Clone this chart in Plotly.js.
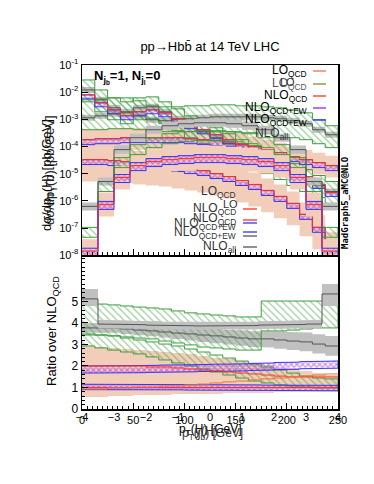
<!DOCTYPE html>
<html><head><meta charset="utf-8">
<script src="https://cdn.plot.ly/plotly-3.0.1.min.js"></script>
<style>html,body{margin:0;padding:0;background:#fff}#c{width:374px;height:484px}</style>
</head><body><div id="c"></div>
<script>
// ---------- bins ----------
const ptEdges = [0,12.5,25,37.5,50,62.5,75,87.5,100,112.5,125,137.5,150,162.5,175,187.5,200,212.5,225,237.5,250];
const yhEdges = [-4,-3.5,-3,-2.5,-2,-1.5,-1,-0.5,0,0.5,1,1.5,2,2.5,3,3.5,4];

// ---------- top panel: broad hump distribution ----------
const humpNloAll   = [1.14e-3,1.35e-3,1.60e-3,1.74e-3,1.35e-3,9.66e-4,8.88e-4,9.66e-4,1.05e-3,1.14e-3,1.24e-3,1.24e-3,1.24e-3,1.24e-3,1.14e-3,1.05e-3,8.88e-4,6.89e-4,4.15e-4,2.72e-4];
const humpNloAllHi = [1.47e-3,1.74e-3,2.06e-3,2.24e-3,1.74e-3,1.24e-3,1.14e-3,1.24e-3,1.35e-3,1.47e-3,1.60e-3,1.60e-3,1.60e-3,1.60e-3,1.47e-3,1.35e-3,1.14e-3,8.88e-4,5.35e-4,3.51e-4];
const humpNloAllLo = [8.88e-4,1.05e-3,1.24e-3,1.35e-3,1.05e-3,7.50e-4,6.89e-4,7.50e-4,8.15e-4,8.88e-4,9.66e-4,9.66e-4,9.66e-4,9.66e-4,8.88e-4,8.15e-4,6.89e-4,5.35e-4,3.22e-4,2.11e-4];
const humpLoHi     = [5.21e-3,5.68e-3,6.18e-3,6.18e-3,4.80e-3,3.15e-3,2.89e-3,2.89e-3,3.15e-3,3.15e-3,3.42e-3,3.42e-3,3.15e-3,3.15e-3,2.89e-3,2.66e-3,2.24e-3,1.74e-3,9.66e-4,5.82e-4];
const humpLoLo     = [4.15e-4,4.15e-4,4.52e-4,4.52e-4,4.15e-4,3.51e-4,3.51e-4,3.51e-4,3.51e-4,3.51e-4,3.51e-4,3.51e-4,3.22e-4,3.22e-4,2.96e-4,2.50e-4,2.11e-4,1.79e-4,1.27e-4,9.10e-5];

// ---------- top panel: steep distribution ----------
const steepNloAll   = [1.21e-2,5.21e-3,2.66e-3,1.90e-3,2.66e-3,2.89e-3,1.90e-3,1.05e-3,5.82e-4,3.51e-4,2.11e-4,1.27e-4,7.68e-5,4.62e-5,2.79e-5,1.68e-5,1.01e-5,6.11e-6,3.68e-6,2.22e-6];
const steepNloAllHi = [1.56e-2,6.72e-3,3.42e-3,2.44e-3,3.42e-3,3.72e-3,2.44e-3,1.35e-3,7.50e-4,4.52e-4,2.72e-4,1.64e-4,9.89e-5,5.96e-5,3.60e-5,2.17e-5,1.30e-5,7.87e-6,4.74e-6,2.86e-6];
const steepNloAllLo = [9.42e-3,4.05e-3,2.06e-3,1.47e-3,2.06e-3,2.24e-3,1.47e-3,8.15e-4,4.52e-4,2.72e-4,1.64e-4,9.89e-5,5.96e-5,3.60e-5,2.17e-5,1.30e-5,7.87e-6,4.74e-6,2.86e-6,1.72e-6];
const steepLoHi     = [2.82e-2,1.21e-2,6.18e-3,4.41e-3,6.18e-3,6.72e-3,4.41e-3,2.44e-3,1.35e-3,8.15e-4,4.91e-4,2.96e-4,1.79e-4,1.08e-4,6.49e-5,3.91e-5,2.36e-5,1.42e-5,8.57e-6,5.16e-6];
const steepLoLo     = [4.41e-3,1.90e-3,9.66e-4,6.89e-4,9.66e-4,1.05e-3,6.89e-4,3.82e-4,2.11e-4,1.27e-4,7.68e-5,4.62e-5,2.79e-5,1.68e-5,1.01e-5,6.11e-6,3.68e-6,2.22e-6,1.34e-6,8.07e-7];
const steepNloQcd   = [7.96e-3,4.05e-3,2.24e-3,1.35e-3,1.90e-3,2.24e-3,1.74e-3,1.05e-3,6.33e-4,4.15e-4,2.72e-4,1.79e-4,1.17e-4,7.06e-5,4.26e-5,2.56e-5,1.42e-5,7.87e-6,4.01e-6,2.04e-6];
const steepEwLo     = [5.68e-3,2.89e-3,1.60e-3,9.66e-4,1.35e-3,1.60e-3,1.24e-3,7.50e-4,4.52e-4,2.96e-4,1.94e-4,1.27e-4,8.35e-5,5.04e-5,3.03e-5,1.83e-5,1.01e-5,5.61e-6,2.86e-6,1.46e-6];

// ---------- top panel: flat distribution ----------
const flatNloQcd = [1.79e-4,1.94e-4,1.94e-4,2.11e-4,2.11e-4,2.11e-4,2.11e-4,2.11e-4,1.94e-4,1.79e-4,1.64e-4,1.51e-4,1.27e-4,9.89e-5,7.68e-5,5.96e-5,4.26e-5,3.30e-5,2.56e-5,1.99e-5];
const flatEwLo   = [1.17e-4,1.27e-4,1.27e-4,1.39e-4,1.39e-4,1.39e-4,1.39e-4,1.39e-4,1.27e-4,1.17e-4,1.08e-4,9.89e-5,8.35e-5,6.49e-5,5.04e-5,3.91e-5,2.79e-5,2.17e-5,1.68e-5,1.30e-5];
const flatLoHi   = [4.15e-4,4.52e-4,4.52e-4,4.91e-4,4.91e-4,4.91e-4,4.91e-4,4.91e-4,4.52e-4,4.15e-4,3.82e-4,3.51e-4,2.96e-4,2.30e-4,1.79e-4,1.39e-4,9.89e-5,7.68e-5,5.96e-5,4.62e-5];
const flatLoLo   = [6.49e-5,7.06e-5,7.06e-5,7.68e-5,7.68e-5,7.68e-5,7.68e-5,7.68e-5,7.06e-5,6.49e-5,5.96e-5,5.48e-5,4.62e-5,3.60e-5,2.79e-5,2.17e-5,1.55e-5,1.20e-5,9.31e-6,7.23e-6];

// ---------- top panel: falling distribution ----------
const fallNloQcd = [3.30e-5,3.30e-5,3.03e-5,2.79e-5,2.56e-5,2.36e-5,2.17e-5,1.83e-5,1.55e-5,1.30e-5,1.01e-5,7.87e-6,5.61e-6,4.01e-6,2.42e-6,1.46e-6,8.07e-7,3.19e-7,1.06e-7,2.54e-8];
const fallEwLo   = [2.17e-5,2.17e-5,1.99e-5,1.83e-5,1.68e-5,1.55e-5,1.42e-5,1.20e-5,1.01e-5,8.57e-6,6.65e-6,5.16e-6,3.68e-6,2.63e-6,1.58e-6,9.55e-7,5.29e-7,2.09e-7,6.98e-8,1.66e-8];
const fallLoHi   = [9.10e-5,9.10e-5,8.35e-5,7.68e-5,7.06e-5,6.49e-5,5.96e-5,5.04e-5,4.26e-5,3.60e-5,2.79e-5,2.17e-5,1.55e-5,1.10e-5,6.65e-6,4.01e-6,2.22e-6,8.77e-7,2.93e-7,6.98e-8];
const fallLoLo   = [5.16e-6,5.16e-6,4.74e-6,4.36e-6,4.01e-6,3.68e-6,3.39e-6,2.86e-6,2.42e-6,2.04e-6,1.58e-6,1.23e-6,8.77e-7,6.27e-7,3.78e-7,2.28e-7,1.26e-7,4.98e-8,1.66e-8,1.0e-8];

// ---------- top panel: rapidity distribution ----------
const rapNloQcd    = [1.41e-8,7.41e-7,7.23e-6,1.99e-5,2.79e-5,3.30e-5,3.60e-5,3.91e-5,3.91e-5,3.60e-5,3.30e-5,2.79e-5,1.99e-5,7.23e-6,7.41e-7,1.41e-8];
const rapEwHi      = [1.81e-8,9.55e-7,9.31e-6,2.56e-5,3.60e-5,4.26e-5,4.62e-5,5.04e-5,5.04e-5,4.62e-5,4.26e-5,3.60e-5,2.56e-5,9.31e-6,9.55e-7,1.81e-8];
const rapEwLo      = [9.2e-9,4.86e-7,4.74e-6,1.30e-5,1.83e-5,2.17e-5,2.36e-5,2.56e-5,2.56e-5,2.36e-5,2.17e-5,1.83e-5,1.30e-5,4.74e-6,4.86e-7,9.2e-9];
const rapLoHi      = [3.87e-8,2.04e-6,1.99e-5,5.48e-5,7.68e-5,9.10e-5,9.89e-5,1.08e-4,1.08e-4,9.89e-5,9.10e-5,7.68e-5,5.48e-5,1.99e-5,2.04e-6,3.87e-8];
const rapLoLo      = [5.1e-9,2.69e-7,2.63e-6,7.23e-6,1.01e-5,1.20e-5,1.30e-5,1.42e-5,1.42e-5,1.30e-5,1.20e-5,1.01e-5,7.23e-6,2.63e-6,2.69e-7,5.1e-9];
const rapNloAll    = [6.27e-7,5.16e-6,7.68e-5,2.11e-4,4.15e-4,5.82e-4,6.89e-4,7.50e-4,7.50e-4,6.89e-4,5.82e-4,4.15e-4,2.11e-4,7.68e-5,5.16e-6,6.27e-7];
const rapNloAllHi  = [8.77e-7,7.23e-6,1.08e-4,2.96e-4,5.82e-4,8.15e-4,9.66e-4,1.05e-3,1.05e-3,9.66e-4,8.15e-4,5.82e-4,2.96e-4,1.08e-4,7.23e-6,8.77e-7];
const rapNloAllLo  = [4.47e-7,3.68e-6,5.48e-5,1.51e-4,2.96e-4,4.15e-4,4.91e-4,5.35e-4,5.35e-4,4.91e-4,4.15e-4,2.96e-4,1.51e-4,5.48e-5,3.68e-6,4.47e-7];
const rapLoQcdHi   = [1.06e-7,5.16e-6,3.91e-5,1.17e-4,2.11e-4,2.96e-4,3.51e-4,3.82e-4,3.82e-4,3.51e-4,2.96e-4,2.11e-4,1.17e-4,3.91e-5,5.16e-6,1.06e-7];
const rapLoQcdLo   = [4.58e-8,2.22e-6,1.68e-5,5.04e-5,9.10e-5,1.27e-4,1.51e-4,1.64e-4,1.64e-4,1.51e-4,1.27e-4,9.10e-5,5.04e-5,1.68e-5,2.22e-6,4.58e-8];

// ---------- ratio panel ----------
const ratLoHi   = [2.93,2.88,2.84,2.79,2.74,2.70,2.65,2.60,2.56,2.47,2.37,2.33,2.23,2.14,2.05,1.95,1.86,1.77,1.67,1.58];
const ratLoLo   = [0.56,0.56,0.60,0.60,0.65,0.65,0.65,0.70,0.70,0.70,0.70,0.74,0.74,0.74,0.74,0.79,0.79,0.79,0.79,0.79];
const ratLo     = [0.93,0.93,0.98,0.98,1.02,1.02,1.07,1.07,1.12,1.16,1.21,1.26,1.30,1.35,1.40,1.44,1.49,1.53,1.58,1.63];
const ratEwHi   = [1.15,1.15,1.15,1.15,1.14,1.14,1.14,1.14,1.13,1.13,1.13,1.12,1.12,1.12,1.11,1.11,1.10,1.10,1.10,1.10];
const ratEwLo   = [0.90,0.90,0.90,0.90,0.89,0.89,0.89,0.89,0.88,0.88,0.88,0.87,0.87,0.87,0.86,0.86,0.85,0.85,0.85,0.85];
const ratEw2Hi  = [2.00,2.00,2.00,2.01,2.02,2.03,2.04,2.05,2.06,2.07,2.08,2.09,2.10,2.12,2.14,2.16,2.18,2.20,2.22,2.23];
const ratEw2Lo  = [1.67,1.67,1.67,1.68,1.69,1.70,1.71,1.72,1.73,1.74,1.75,1.76,1.77,1.79,1.81,1.83,1.85,1.87,1.89,1.90];
const ratNloQcd = [1,1,1,1,1,1,1,1,1,1,1,1,1,1,1,1,1,1,1,1];
const ratNloQcd2= [2.0,2.0,2.0,2.0,2.0,1.95,1.95,1.91,1.86,1.81,1.77,1.72,1.67,1.63,1.58,1.53,1.49,1.49,1.49,1.49];
const ratAll    = [3.77,3.77,3.77,3.72,3.67,3.63,3.58,3.53,3.49,3.44,3.40,3.35,3.30,3.26,3.26,3.21,3.16,3.12,3.02,2.93];
const ratAllHi  = [4.0,4.0,4.0,3.97,3.93,3.90,3.86,3.82,3.79,3.75,3.72,3.68,3.65,3.62,3.63,3.60,3.58,3.56,3.48,3.40];
const ratAllLo  = [3.55,3.55,3.55,3.49,3.43,3.38,3.32,3.25,3.19,3.12,3.06,3.00,2.94,2.88,2.86,2.80,2.74,2.68,2.58,2.48];
const ratGreenHi  = [4.88,4.88,4.84,4.79,4.74,4.70,4.65,4.56,4.47,4.42,4.37,4.33,4.28,4.28,5.02,5.02,5.02,5.02,5.02,5.02];
const ratGreenLo  = [3.44,3.44,3.40,3.35,3.30,3.26,3.16,3.07,2.98,2.88,2.84,2.79,2.74,2.74,3.63,3.63,3.67,3.72,3.77,3.77];
const ratGreen2Hi = [3.49,3.44,3.40,3.30,3.21,3.12,3.02,2.93,2.79,2.65,2.51,2.37,2.23,2.09,1.95,1.81,1.67,1.53,1.44,1.40];
const ratGreen2Lo = [2.93,2.84,2.74,2.65,2.56,2.42,2.28,2.14,2.00,1.86,1.72,1.58,1.44,1.30,1.21,1.12,1.07,1.02,0.98,0.98];
const rapRatAll   = [5.12,3.95,3.93,3.92,3.90,3.88,3.87,3.86,3.86,3.87,3.88,3.90,3.92,3.93,3.95,5.35];
const rapRatAllHi = [5.58,4.15,4.12,4.10,4.08,4.06,4.05,4.04,4.04,4.05,4.06,4.08,4.10,4.12,4.15,5.81];
const rapRatAllLo = [4.79,3.75,3.74,3.74,3.72,3.70,3.69,3.68,3.68,3.69,3.70,3.72,3.74,3.74,3.75,4.79];

// ---------- tick labels ----------
const logTickVals  = [1e-8,1e-7,1e-6,1e-5,1e-4,1e-3,1e-2,1e-1];
const logTickText  = ['10<sup>-8</sup>','10<sup>-7</sup>','10<sup>-6</sup>','10<sup>-5</sup>','10<sup>-4</sup>','10<sup>-3</sup>','10<sup>-2</sup>','10<sup>-1</sup>'];
const logTickVals2 = [1e-4,1e-3,1e-2,1e-1];
const logTickText2 = ['10<sup>-4</sup>','10<sup>-3</sup>','10<sup>-2</sup>','10<sup>-1</sup>'];
const logTickVals3 = [1e-5,1e-4,1e-3];
const logTickText3 = ['10<sup>-5</sup>','10<sup>-4</sup>','10<sup>-3</sup>'];
const ratioTicks   = [0,1,2,3,4,5];

// ---------- colours ----------
const SALMON='rgb(242,205,186)', GRAYB='rgb(192,192,192)', GRAYL='#555555', GREEN='#3d9e3d',
      PURP='#a020f0', BLUE='#3333ff', RED='#ff3020', ORANGE='#e8743b', OLIVE='#7a8f2a';

function stepXY(edges, vals){ const x=[],y=[]; for(let i=0;i<vals.length;i++){x.push(edges[i],edges[i+1]);y.push(vals[i],vals[i]);} return {x,y}; }
function bandXY(edges, hi, lo){ const a=stepXY(edges,hi), b=stepXY(edges,lo); return {x:a.x.concat(b.x.slice().reverse()), y:a.y.concat(b.y.slice().reverse())}; }
const traces=[];
function solidBand(edges,hi,lo,xa,ya,color){ const b=bandXY(edges,hi,lo);
  traces.push({type:'scatter',mode:'lines',x:b.x,y:b.y,xaxis:xa,yaxis:ya,fill:'toself',fillcolor:color,line:{width:0},hoverinfo:'skip',showlegend:false}); }
function hatchBand(edges,hi,lo,xa,ya,fg,shape,edge,size,sol){ const b=bandXY(edges,hi,lo);
  traces.push({type:'scatter',mode:'lines',x:b.x,y:b.y,xaxis:xa,yaxis:ya,fill:'toself',fillcolor:'rgba(0,0,0,0)',
    fillpattern:{shape:shape,fgcolor:fg,bgcolor:'rgba(0,0,0,0)',size:size,solidity:sol,fillmode:'overlay'},
    line:{width:1,color:edge},hoverinfo:'skip',showlegend:false}); }
function stepLine(edges,vals,xa,ya,color,w){ const s=stepXY(edges,vals);
  traces.push({type:'scatter',mode:'lines',x:s.x,y:s.y,xaxis:xa,yaxis:ya,line:{width:w||1,color:color},hoverinfo:'skip',showlegend:false}); }

// salmon (LO) bands
solidBand(ptEdges,flatLoHi,flatLoLo,'x2','y2',SALMON);
solidBand(ptEdges,fallLoHi,fallLoLo,'x2','y2',SALMON);
solidBand(yhEdges,rapLoHi,rapLoLo,'x4','y2',SALMON);
solidBand(ptEdges,ratLoHi,ratLoLo,'x','y',SALMON);
// gray (NLO_all) bands
solidBand(ptEdges,humpNloAllHi,humpNloAllLo,'x2','y2',GRAYB);
solidBand(ptEdges,steepNloAllHi,steepNloAllLo,'x2','y2',GRAYB);
solidBand(yhEdges,rapNloAllHi,rapNloAllLo,'x4','y2',GRAYB);
solidBand(ptEdges,ratAllHi,ratAllLo,'x','y',GRAYB);
solidBand(yhEdges,rapRatAllHi,rapRatAllLo,'x3','y',GRAYB);
// green hatched bands
hatchBand(ptEdges,humpLoHi,humpLoLo,'x2','y2',GREEN,'\\',GREEN,5,0.25);
hatchBand(ptEdges,steepLoHi,steepLoLo,'x2','y2',GREEN,'\\',GREEN,5,0.25);
hatchBand(yhEdges,rapLoQcdHi,rapLoQcdLo,'x4','y2',GREEN,'\\',GREEN,5,0.25);
hatchBand(ptEdges,ratGreenHi,ratGreenLo,'x','y',GREEN,'\\',GREEN,5,0.25);
hatchBand(ptEdges,ratGreen2Hi,ratGreen2Lo,'x','y',GREEN,'\\',GREEN,5,0.25);
// purple hatched bands (NLO_QCD+EW)
hatchBand(ptEdges,steepNloQcd,steepEwLo,'x2','y2',PURP,'x',BLUE,4,0.55);
hatchBand(ptEdges,flatNloQcd,flatEwLo,'x2','y2',PURP,'x',BLUE,4,0.55);
hatchBand(ptEdges,fallNloQcd,fallEwLo,'x2','y2',PURP,'x',BLUE,4,0.55);
hatchBand(yhEdges,rapEwHi,rapEwLo,'x4','y2',PURP,'x',BLUE,4,0.55);
hatchBand(ptEdges,ratEwHi,ratEwLo,'x','y',PURP,'x',BLUE,4,0.55);
hatchBand(ptEdges,ratEw2Hi,ratEw2Lo,'x','y',PURP,'x',BLUE,4,0.55);
// lines
stepLine(ptEdges,humpNloAll,'x2','y2',GRAYL);
stepLine(ptEdges,steepNloAll,'x2','y2',GRAYL);
stepLine(yhEdges,rapNloAll,'x4','y2',GRAYL);
stepLine(ptEdges,ratAll,'x','y',GRAYL);
stepLine(yhEdges,rapRatAll,'x3','y',GRAYL);
stepLine(ptEdges,steepNloQcd,'x2','y2',RED);
stepLine(ptEdges,flatNloQcd,'x2','y2',RED);
stepLine(ptEdges,fallNloQcd,'x2','y2',RED);
stepLine(yhEdges,rapNloQcd,'x4','y2',RED);
stepLine(ptEdges,ratNloQcd,'x','y',RED);
stepLine(ptEdges,ratNloQcd2,'x','y',RED);
stepLine(ptEdges,ratLo,'x','y',ORANGE);

// ---------- layout helpers (pixel -> paper) ----------
const L=82,R=338,T=65,B=409;
const px=x=>(x-L)/(R-L), py=y=>(B-y)/(B-T);
const FONT='Liberation Sans, Arial, sans-serif';
const anns=[]; const shapes=[];
function ann(text,x,y,o){ anns.push(Object.assign({text:text,xref:'paper',yref:'paper',x:px(x),y:py(y),showarrow:false,
  font:{family:FONT,size:12,color:'#000'},xanchor:'center',yanchor:'middle'},o||{})); }
function legLine(x0,x1,y,color){ shapes.push({type:'line',xref:'paper',yref:'paper',x0:px(x0),x1:px(x1),y0:py(y),y1:py(y),line:{color:color,width:1.3}}); }

// upper legend
ann('LO<sub>QCD</sub>',309,71,{xanchor:'right'}); legLine(313,326,71,ORANGE);
ann('LO<sub>QCD</sub>',309,84,{xanchor:'right',font:{family:FONT,size:12,color:'#555'}}); legLine(313,326,84,OLIVE);
ann('LO',297,82,{xanchor:'right',font:{family:FONT,size:11,color:'#333'}});
ann('NLO<sub>QCD</sub>',309,96,{xanchor:'right'}); legLine(313,326,96,RED);
ann('NLO<sub>QCD+EW</sub>',309,108,{xanchor:'right'}); legLine(313,326,108,PURP);
ann('NLO<sub>QCD+EW</sub>',309,120,{xanchor:'right'}); legLine(313,326,120,BLUE);
ann('NLO<sub>all</sub>',290,134,{xanchor:'right',font:{family:FONT,size:12,color:'#333'}});
// lower legend
ann('LO<sub>QCD</sub>',238,192,{xanchor:'right',font:{family:FONT,size:12,color:'#333'}});
ann('LO',240,204,{xanchor:'right',font:{family:FONT,size:11,color:'#333'}});
ann('NLO<sub>QCD</sub>',238,209,{xanchor:'right',font:{family:FONT,size:12,color:'#333'}}); legLine(243,257,209,RED);
ann('NLO<sub>QCD</sub>',238,219,{xanchor:'right',font:{family:FONT,size:12,color:'#333'}}); legLine(243,257,220,RED); legLine(243,257,223,BLUE);
ann('NLO<sub>QCD+EW</sub>',238,224,{xanchor:'right',font:{family:FONT,size:12,color:'#333'}});
ann('NLO<sub>QCD+EW</sub>',238,233,{xanchor:'right',font:{family:FONT,size:12,color:'#333'}}); legLine(243,257,232,BLUE); legLine(243,257,236,GRAYL);
ann('NLO<sub>all</sub>',238,247,{xanchor:'right',font:{family:FONT,size:12,color:'#333'}}); legLine(243,257,247,GRAYL);

// labels inside
ann('<b>N<sub>j<sub>b</sub></sub>=1, N<sub>j<sub>l</sub></sub>=0</b>',92,77,{xanchor:'left',font:{family:FONT,size:13,color:'#000'}});
ann('<b>MadGraph5_aMC@NLO</b>',345,203,{textangle:-90,font:{family:'DejaVu Sans Mono, monospace',size:9,color:'#000'}});
// axis titles
ann('dσ/dp<sub>T</sub>(H) [pb/GeV]',47,175,{textangle:-90,font:{family:FONT,size:13,color:'#000'}});
ann('dσ/dp<sub>T</sub>(b) [pb/GeV]',50,170,{textangle:-90,font:{family:FONT,size:13,color:'#222'}});
ann('Ratio over NLO<sub>QCD</sub>',52,331,{textangle:-90,font:{family:FONT,size:13,color:'#000'}});
ann('p<sub>T</sub>(H) [GeV]',210,430,{font:{family:FONT,size:12,color:'#000'}});
ann('p<sub>T</sub>(j<sub>b</sub>) [GeV]',212,434,{font:{family:FONT,size:12,color:'#333'}});
ann('y(H)',206,431,{font:{family:FONT,size:12,color:'#333'}});

const tickFont={family:FONT,size:11,color:'#000'};
const layout={
  width:374,height:484,margin:{l:L,r:374-R,t:T,b:484-B,pad:0},
  paper_bgcolor:'#fff',plot_bgcolor:'rgba(0,0,0,0)',showlegend:false,
  title:{text:'pp→Hbb̄ at 14 TeV LHC',x:0.5,xref:'paper',y:1-46/484,yref:'container',xanchor:'center',yanchor:'middle',font:{family:FONT,size:13,color:'#000'}},
  font:{family:FONT},
  xaxis:{domain:[0,1],range:[0,250],anchor:'y',showline:true,mirror:true,linecolor:'#000',linewidth:1.5,showgrid:false,zeroline:false,
    ticks:'inside',ticklen:6,tickcolor:'#000',dtick:50,tick0:0,tickfont:tickFont,minor:{ticks:'inside',ticklen:3,dtick:5,tickcolor:'#000'}},
  yaxis:{domain:[0,0.442],range:[0,7.07],anchor:'x',showline:true,mirror:true,linecolor:'#000',linewidth:1.5,showgrid:false,zeroline:false,
    ticks:'inside',ticklen:6,tickcolor:'#000',tickvals:ratioTicks,tickfont:{family:FONT,size:12,color:'#000'},minor:{ticks:'inside',ticklen:3,dtick:0.2,tickcolor:'#000'}},
  xaxis2:{domain:[0,1],range:[0,250],anchor:'y2',showline:true,mirror:true,linecolor:'#000',linewidth:1.5,showgrid:false,zeroline:false,
    ticks:'inside',ticklen:6,tickcolor:'#000',dtick:50,showticklabels:false,minor:{ticks:'inside',ticklen:3,dtick:5,tickcolor:'#000'}},
  yaxis2:{domain:[0.447,1],type:'log',range:[-8,-1],anchor:'x2',showline:true,mirror:true,linecolor:'#000',linewidth:1.5,showgrid:false,zeroline:false,
    ticks:'inside',ticklen:6,tickcolor:'#000',tickvals:logTickVals,ticktext:logTickText,tickfont:tickFont},
  xaxis3:{overlaying:'x',anchor:'y',range:[-4,4],dtick:1,tick0:0,side:'bottom',showline:false,showgrid:false,zeroline:false,ticks:'',tickfont:tickFont},
  xaxis4:{overlaying:'x2',anchor:'y2',range:[-4,4],visible:false},
  yaxis3:{overlaying:'y2',anchor:'x2',type:'log',range:[-4.43,-0.36],side:'left',showline:false,showgrid:false,zeroline:false,ticks:'',
    tickvals:logTickVals2,ticktext:logTickText2,tickfont:tickFont},
  yaxis4:{overlaying:'y2',anchor:'x2',type:'log',range:[-5.89,-2.03],side:'left',showline:false,showgrid:false,zeroline:false,ticks:'',
    tickvals:logTickVals3,ticktext:logTickText3,tickfont:tickFont},
  annotations:anns,shapes:shapes
};
Plotly.newPlot('c',traces,layout,{staticPlot:true,displayModeBar:false});
</script></body></html>
